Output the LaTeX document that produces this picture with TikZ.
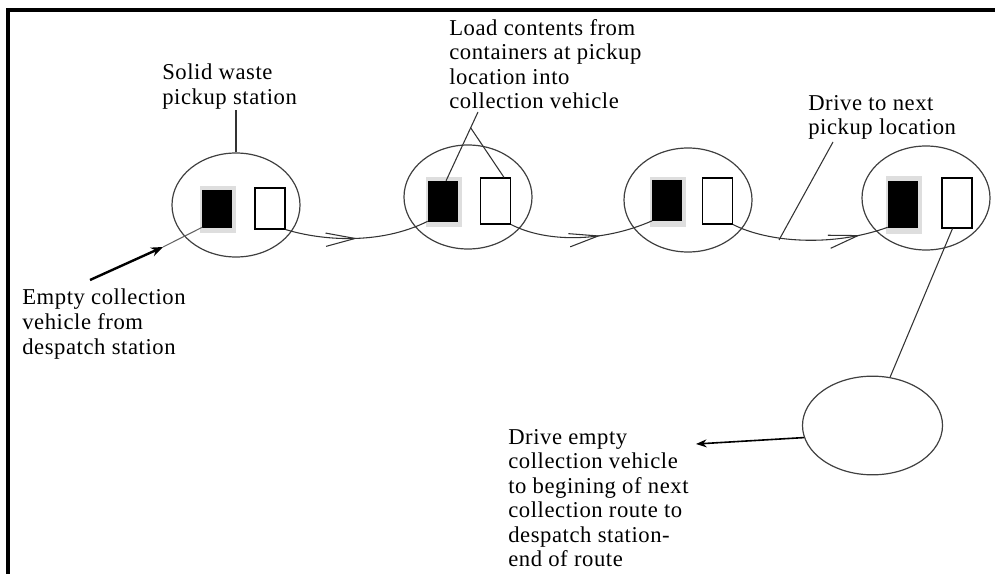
\documentclass[tikz,border=0pt]{standalone}
\usepackage{fontspec}
\setmainfont{Liberation Serif}[LetterSpace=2.5]
\usetikzlibrary{shapes.geometric,shadows,decorations.markings,arrows.meta,calc}
\tikzset{
  station/.style={ellipse, draw=black!75, line width=.9pt, minimum width=96pt, minimum height=78pt, inner sep=0pt},
  loadbin/.style={rectangle, draw=black, fill=black, minimum width=21.75pt, inner sep=0pt,
    general shadow={fill=black!13, shadow scale=1.25, shadow xshift=.8pt, shadow yshift=-.6pt}},
  emptybin/.style={rectangle, draw=black, fill=white, line width=.8pt, minimum width=22.5pt, inner sep=0pt},
  note/.style={anchor=north west, inner sep=0pt, align=left, font=\fontsize{17}{18.4}\selectfont},
  callout/.style={draw=black!80, line width=.8pt},
  route/.style={callout, postaction={decorate}, decoration={markings,
    mark=at position #1 with {\arrow{Straight Barb[length=22pt,width=10pt,line width=.8pt]}}}},
}
\begin{document}
\begin{tikzpicture}[x=0.75pt, y=-0.75pt, >={Stealth[length=9pt,width=7pt]}]
\useasboundingbox (0,0) rectangle (995,574);
\draw[line width=3pt] (8,574) -- (8,10) -- (995,10);

% pickup stations with containers
\foreach \i/\x/\y/\bx/\by/\bh/\wx/\wy/\wh in {1/236/205/217/208.5/27.75/270/208.5/30.75,
  2/468/197/442.5/201/30/495.5/201/34.5, 3/688/200/667/200.5/30/717.5/201/34.5,
  4/926/198/902.5/204/34.5/957/203/37.5}
{
  \node[station] (st\i) at (\x,\y) {};
  \node[loadbin, minimum height=\bh pt] (bl\i) at (\bx,\by) {};
  \node[emptybin, minimum height=\wh pt] (wh\i) at (\wx,\wy) {};
}
\node[station, minimum width=105pt, minimum height=74pt] (endst) at (872.5,425.5) {};

\draw[route=0.5] (wh1.south east) .. controls +(36,11) and +(-48,24) .. (bl2.south west);
\draw[route=0.63] (wh2.south east) .. controls +(35,18) and +(-50,22) .. (bl3.south west);
\draw[route=0.82] (wh3.south east) .. controls +(35,18) and +(-55,20) .. (bl4.south west);

% labels
\node[note] (solidtxt) at (162,64) {Solid waste\\pickup station};
\draw[callout] (st1.north) -- (st1.north |- solidtxt.south);

\node[note] (loadtxt) at (449,19) {Load contents from\\containers at pickup\\location into\\collection vehicle};
\coordinate (loadtip) at (478,112);
\draw[callout] (loadtip) -- (bl2.80);
\draw[callout] ($(loadtip)!0.23!(bl2.80)$) -- (wh2.70);

\node[note] (drivetxt) at (808,95) {Drive to next\\pickup location};
\coordinate (drivetop) at (833,142);
\coordinate (drivebot) at (779,240);
\draw[callout] (drivetop) -- (drivebot);

\node[note] (emptytxt) at (22,289) {Empty collection\\vehicle from\\despatch station};
\coordinate (emptytail) at (90,280);
\coordinate (emptytip) at (163,247);
\draw[->, line width=1.8pt] (emptytail) -- (emptytip);
\draw[callout, draw=black!60] (emptytip) -- (bl1.south west);

\draw[callout] (wh4.260) -- (endst.70);
\node[note] (returntxt) at (508,429) {Drive empty\\collection vehicle\\to begining of next\\collection route to\\despatch station-\\end of route};
\coordinate (returntip) at (696,444);
\draw[-{Stealth[length=8pt,width=6pt]}, line width=1.2pt] (endst.190) -- (returntip);
\end{tikzpicture}
\end{document}
